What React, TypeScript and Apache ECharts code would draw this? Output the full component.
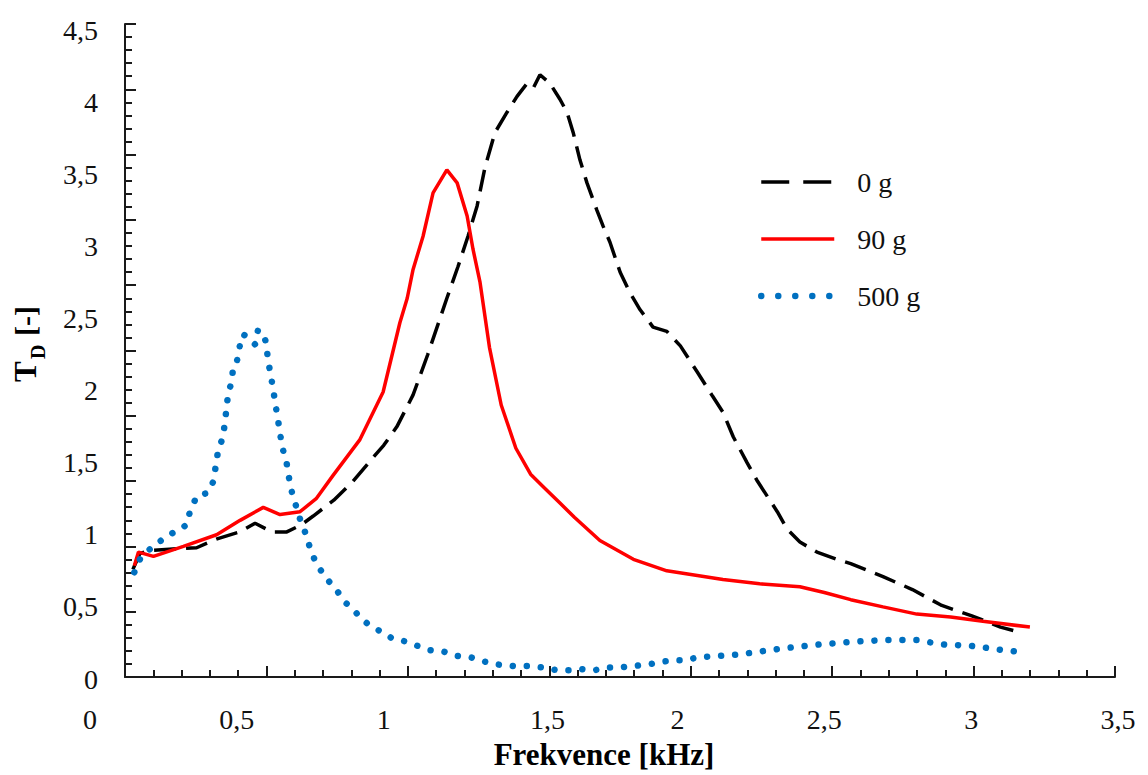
import React, { useEffect, useRef } from 'react';
import * as echarts from 'echarts';

const SERIF = '"Liberation Serif", "Times New Roman", serif';

// 0 g (black dashed)
const freq0g = [0.146, 0.17, 0.2, 0.27, 0.363, 0.43, 0.51, 0.562, 0.6, 0.623, 0.67, 0.72, 0.76, 0.83, 0.895, 0.97, 1.0, 1.045, 1.1, 1.15, 1.215, 1.253, 1.287, 1.318, 1.345, 1.379, 1.42, 1.454, 1.488, 1.51, 1.532, 1.566, 1.6, 1.624, 1.645, 1.668, 1.692, 1.726, 1.747, 1.77, 1.805, 1.838, 1.873, 1.917, 1.964, 2.01, 2.067, 2.12, 2.155, 2.19, 2.237, 2.27, 2.305, 2.34, 2.373, 2.417, 2.475, 2.543, 2.59, 2.7, 2.8, 2.9, 3.0, 3.1, 3.156];
const td0g = [0.76, 0.87, 0.89, 0.9, 0.91, 0.97, 1.02, 1.08, 1.04, 1.02, 1.02, 1.07, 1.13, 1.24, 1.37, 1.55, 1.62, 1.75, 1.97, 2.25, 2.64, 2.86, 3.07, 3.28, 3.55, 3.79, 3.93, 4.04, 4.13, 4.1, 4.19, 4.13, 4.02, 3.93, 3.79, 3.6, 3.44, 3.25, 3.14, 3.03, 2.82, 2.68, 2.56, 2.44, 2.41, 2.31, 2.13, 1.96, 1.85, 1.68, 1.5, 1.38, 1.27, 1.16, 1.04, 0.95, 0.88, 0.83, 0.8, 0.71, 0.62, 0.51, 0.44, 0.36, 0.33];

// 90 g (red solid)
const freq90g = [0.151, 0.165, 0.216, 0.318, 0.431, 0.511, 0.59, 0.647, 0.715, 0.77, 0.827, 0.919, 0.998, 1.055, 1.08, 1.1, 1.134, 1.168, 1.215, 1.25, 1.284, 1.304, 1.328, 1.36, 1.4, 1.45, 1.5, 1.55, 1.6, 1.65, 1.736, 1.85, 1.964, 2.155, 2.28, 2.417, 2.5, 2.59, 2.7, 2.815, 2.93, 3.04, 3.2];
const td90g = [0.785, 0.88, 0.85, 0.92, 1.0, 1.1, 1.19, 1.14, 1.16, 1.25, 1.41, 1.66, 1.99, 2.47, 2.64, 2.84, 3.07, 3.37, 3.53, 3.44, 3.21, 2.98, 2.75, 2.3, 1.9, 1.6, 1.42, 1.32, 1.22, 1.12, 0.96, 0.83, 0.75, 0.69, 0.66, 0.64, 0.6, 0.55, 0.5, 0.45, 0.43, 0.4, 0.36];

// 500 g (blue dotted)
const freq500g = [0.151, 0.17, 0.187, 0.215, 0.262, 0.306, 0.33, 0.34, 0.364, 0.4, 0.42, 0.436, 0.453, 0.46, 0.471, 0.483, 0.487, 0.5, 0.51, 0.521, 0.538, 0.562, 0.572, 0.59, 0.6, 0.605, 0.613, 0.623, 0.63, 0.64, 0.647, 0.657, 0.67, 0.678, 0.688, 0.715, 0.732, 0.749, 0.766, 0.79, 0.82, 0.845, 0.87, 0.897, 0.923, 0.953, 0.99, 1.03, 1.075, 1.115, 1.158, 1.205, 1.25, 1.297, 1.345, 1.39, 1.44, 1.49, 1.546, 1.59, 1.634, 1.668, 1.716, 1.764, 1.8, 1.85, 1.9, 1.947, 1.985, 2.03, 2.067, 2.21, 2.35, 2.486, 2.61, 2.71, 2.815, 2.9, 3.0, 3.11, 3.16];
const td500g = [0.74, 0.83, 0.87, 0.92, 0.99, 1.04, 1.07, 1.16, 1.27, 1.29, 1.37, 1.58, 1.68, 1.79, 1.99, 2.06, 2.16, 2.2, 2.31, 2.39, 2.37, 2.32, 2.42, 2.39, 2.33, 2.23, 2.13, 2.02, 1.92, 1.8, 1.7, 1.59, 1.49, 1.39, 1.29, 1.11, 1.02, 0.91, 0.82, 0.74, 0.66, 0.6, 0.53, 0.48, 0.42, 0.37, 0.33, 0.28, 0.26, 0.23, 0.2, 0.19, 0.16, 0.15, 0.12, 0.1, 0.09, 0.09, 0.08, 0.06, 0.06, 0.07, 0.06, 0.08, 0.08, 0.09, 0.1, 0.12, 0.13, 0.13, 0.15, 0.17, 0.21, 0.24, 0.26, 0.27, 0.27, 0.24, 0.23, 0.2, 0.19];

const seriesNames = ['0 g', '90 g', '500 g'];
const xTitle = 'Frekvence [kHz]';

const zip = (xs: number[], ys: number[]) => xs.map((x, i) => [x, ys[i]]);
const fmt = (v: number) => String(v).replace('.', ',');

export default function App() {
  const ref = useRef<HTMLDivElement>(null);
  useEffect(() => {
    const chart = echarts.init(ref.current!, null, { renderer: 'svg' });
    const axisColor = '#1a1a1a';
    const decoAxis = (gridIndex: number, max: number) => ({
      gridIndex,
      type: 'value',
      min: 0,
      max,
      interval: 1,
      axisLine: { show: true, lineStyle: { color: axisColor, width: 2 } },
      axisTick: { show: true, inside: true, length: 11, lineStyle: { color: axisColor, width: 2 } },
      minorTick: { show: true, splitNumber: 5, length: 7, lineStyle: { color: axisColor, width: 2 } },
      axisLabel: { show: false },
      splitLine: { show: false },
      minorSplitLine: { show: false },
    });
    const hiddenSymbol = { color: 'rgba(0,0,0,0)', borderWidth: 0, opacity: 0 };
    chart.setOption({
      animation: false,
      backgroundColor: '#ffffff',
      textStyle: { fontFamily: SERIF },
      grid: [
        { left: 90, top: 30, width: 1028, height: 650 },
        { left: 125, top: 24, width: 990, height: 653 },
      ],
      xAxis: [
        {
          gridIndex: 0,
          type: 'value',
          min: 0,
          max: 3.5,
          interval: 0.5,
          axisLine: { show: false },
          axisTick: { show: false },
          splitLine: { show: false },
          axisLabel: {
            margin: 26,
            fontSize: 28,
            color: '#111',
            fontFamily: SERIF,
            formatter: (v: number) => (v === 1.5 ? '{o|' + fmt(v) + '}' : fmt(v)),
            rich: { o: { padding: [0, 0, 0, 34], fontSize: 28, fontFamily: SERIF, color: '#111' } },
          },
          name: xTitle,
          nameLocation: 'middle',
          nameGap: 60,
          nameTextStyle: { fontSize: 31, fontWeight: 'bold', fontFamily: SERIF, color: '#000' },
        },
        decoAxis(1, 7),
      ],
      yAxis: [
        {
          gridIndex: 0,
          type: 'value',
          min: 0,
          max: 4.5,
          interval: 0.5,
          axisLine: { show: false },
          axisTick: { show: false },
          splitLine: { show: false },
          axisLabel: { margin: -8, fontSize: 28, color: '#111', fontFamily: SERIF, formatter: (v: number) => fmt(v) },
        },
        decoAxis(1, 10),
      ],
      legend: {
        orient: 'vertical',
        left: 753,
        top: 163,
        itemWidth: 73,
        itemHeight: 20,
        itemGap: 29,
        itemStyle: hiddenSymbol,
        textStyle: { fontSize: 28, fontFamily: SERIF, color: '#111', lineHeight: 28, padding: [0, 0, 0, 18] },
        data: [
          { name: seriesNames[0], itemStyle: hiddenSymbol, lineStyle: { type: [28, 14], width: 3.5, opacity: 1 } },
          { name: seriesNames[1], itemStyle: hiddenSymbol, lineStyle: { width: 3.5, opacity: 1 } },
          { name: seriesNames[2], itemStyle: hiddenSymbol, lineStyle: { type: [0.01, 17], width: 6.5, cap: 'round', opacity: 1 } },
        ],
      },
      graphic: [
        {
          type: 'group',
          x: 35,
          y: 382,
          rotation: Math.PI / 2,
          children: [
            { type: 'text', x: 0, y: -10, style: { text: 'T', fontSize: 31, fontWeight: 'bold', fontFamily: SERIF, fill: '#000', align: 'left', verticalAlign: 'middle' } },
            { type: 'text', x: 23, y: 3, style: { text: 'D', fontSize: 20, fontWeight: 'bold', fontFamily: SERIF, fill: '#000', align: 'left', verticalAlign: 'middle' } },
            { type: 'text', x: 46, y: -10, style: { text: '[-]', fontSize: 30, fontWeight: 'bold', fontFamily: SERIF, fill: '#000', align: 'left', verticalAlign: 'middle' } },
          ],
        },
      ],
      series: [
        {
          name: seriesNames[0],
          type: 'line',
          xAxisIndex: 0,
          yAxisIndex: 0,
          data: zip(freq0g, td0g),
          symbol: 'none',
          itemStyle: { color: '#000000' },
          lineStyle: { color: '#000000', width: 3.5, type: [22, 10] },
        },
        {
          name: seriesNames[1],
          type: 'line',
          xAxisIndex: 0,
          yAxisIndex: 0,
          data: zip(freq90g, td90g),
          symbol: 'none',
          itemStyle: { color: '#ff0000' },
          lineStyle: { color: '#ff0000', width: 3.5, type: 'solid' },
        },
        {
          name: seriesNames[2],
          type: 'line',
          xAxisIndex: 0,
          yAxisIndex: 0,
          data: zip(freq500g, td500g),
          symbol: 'none',
          itemStyle: { color: '#0070c0' },
          lineStyle: { color: '#0070c0', width: 6.5, type: [0.01, 14], cap: 'round' },
        },
      ],
    });
    return () => chart.dispose();
  }, []);
  return (
    <div
      ref={ref}
      style={{ position: 'fixed', left: 0, top: 0, width: 1148, height: 775, background: '#fff' }}
    />
  );
}
